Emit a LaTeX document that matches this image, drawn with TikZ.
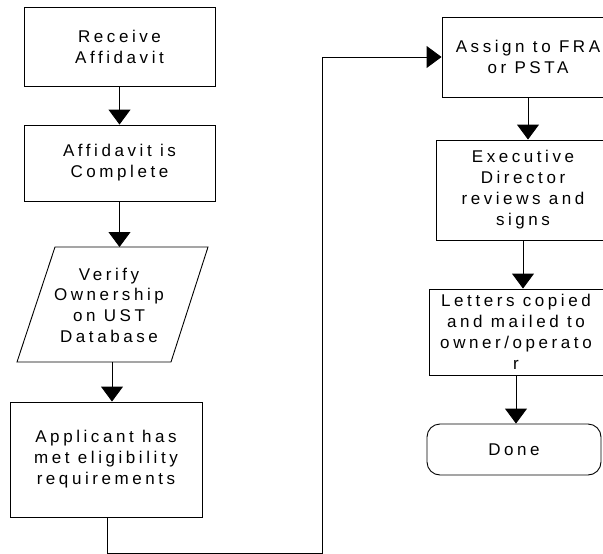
\documentclass[tikz,border=0pt]{standalone}
\usepackage{fontspec}
\setmainfont[LetterSpace=21]{Liberation Sans}
\usetikzlibrary{arrows.meta}
\tikzset{
  stepbox/.style={draw, line width=0.9pt, minimum width=#1, inner sep=0pt, align=center,
    font=\fontsize{17}{21}\selectfont},
  stepbox/.default=191pt,
  flow/.style={line width=0.9pt, -{Triangle[width=22pt,length=15pt]}},
  label text/.style={inner sep=0pt, align=center, font=\fontsize{17}{20.7}\selectfont}
}
\begin{document}
\begin{tikzpicture}[x=1pt,y=-1pt]
\useasboundingbox (0,0) rectangle (603,554);
\clip (0,0) rectangle (603,554);
\fill[white] (0,0) rectangle (603,554);

% left column
\node[stepbox=191pt, minimum height=79pt] (receive) at (119.5,46.5) {Receive\\Affidavit};
\node[stepbox=191pt, minimum height=76pt] (complete) at (119.5,163) {Affidavit is\\Complete};
\draw[line width=0.9pt] (55,247) -- (208,247) -- (171,362) -- (17,362) -- cycle;
\coordinate (verifytop) at (112.5,247);
\coordinate (verifybot) at (112,362);
\node[label text] (verify) at (109,305) {Verify\\Ownership\\on UST\\Database};
\node[stepbox=192pt, minimum height=115pt] (eligible) at (106,459.5) {Applicant has\\met eligibility\\requirements};

% right column
\node[stepbox=172pt, minimum height=80pt] (assign) at (528,57) {Assign to FRA\\or PSTA};
\node[stepbox=174pt, minimum height=100pt] (review) at (523,190) {Executive\\Director\\reviews and\\signs};
\node[stepbox=174pt, minimum height=86pt] (mail) at (516,332) {Letters copied\\and mailed to\\owner/operato\\r};
\node[stepbox=174pt, minimum height=51pt, rounded corners=13pt] (done) at (514,449.5) {Done};

% connectors
\draw[flow] (receive.south) -- (receive.south |- complete.north);
\draw[flow] (complete.south) -- (complete.south |- verifytop);
\draw[flow] (verifybot) -- (verifybot |- eligible.north);
\coordinate (low) at (107,553);
\coordinate (up) at (322,553);
\draw[flow] (eligible.south -| low) -- (low) -- (up) -- (up |- assign.west) -- (assign.west);
\draw[flow] (assign.south) -- (assign.south |- review.north);
\draw[flow] (review.south) -- (review.south |- mail.north);
\draw[flow] (mail.south) -- (mail.south |- done.north);
\end{tikzpicture}
\end{document}
